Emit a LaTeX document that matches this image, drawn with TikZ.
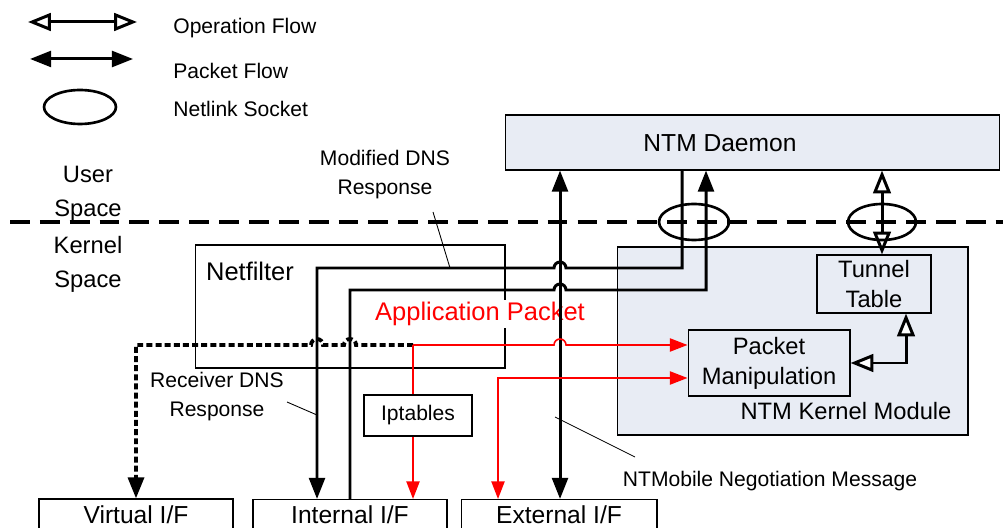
\documentclass[tikz,border=0pt]{standalone}
\usepackage{fontspec}
\setmainfont{Liberation Sans}
\usetikzlibrary{arrows.meta,shapes.geometric}

\definecolor{ntmfill}{RGB}{232,236,244}

\tikzset{
  box/.style={draw, line width=0.6pt, inner sep=0pt, align=center},
  shadebox/.style={box, fill=ntmfill},
  lbl/.style={font=\fontsize{13.5}{17}\selectfont, align=center, inner sep=0pt},
  legtext/.style={anchor=west, font=\fontsize{12}{14}\selectfont, inner sep=0pt},
  note/.style={font=\fontsize{12}{16.5}\selectfont, align=center, inner sep=0pt},
  socket/.style={draw, ellipse, line width=1.5pt, inner sep=0pt, minimum width=1.4cm, minimum height=0.72cm},
  pkt/.style={line width=1.7pt, -{Triangle[length=12pt,width=9pt]}},
  pktboth/.style={line width=1.7pt, {Triangle[length=12pt,width=9pt]}-{Triangle[length=12pt,width=9pt]}},
  opflow/.style={line width=1.7pt, {Triangle[length=13pt,width=10pt,fill=white]}-{Triangle[length=13pt,width=10pt,fill=white]}},
  dnsdot/.style={line width=2.2pt, dash pattern=on 3.4pt off 1.8pt, -{Triangle[length=12pt,width=9pt]}},
  app/.style={red, line width=0.9pt, -{Triangle[length=10pt,width=7.5pt]}},
  appboth/.style={red, line width=0.9pt, {Triangle[length=10pt,width=7.5pt]}-{Triangle[length=10pt,width=7.5pt]}},
  appline/.style={red, line width=0.9pt},
  callout/.style={line width=0.5pt},
  sep/.style={line width=2pt, dash pattern=on 11.3pt off 5.7pt}
}

\begin{document}
\begin{tikzpicture}[x=0.02cm,y=0.02cm]
  \useasboundingbox (0,0) rectangle (1003,527);

  % legend
  \coordinate (opA) at (28,505);
  \coordinate (opB) at (137,505);
  \draw[opflow] (opA) -- (opB);
  \node[legtext] (opText) at (173,499) {Operation Flow};
  \coordinate (pkA) at (30,468);
  \coordinate (pkB) at (133,468);
  \draw[pktboth] (pkA) -- (pkB);
  \node[legtext] (pkText) at (173,456) {Packet Flow};
  \node[socket, minimum width=1.44cm, minimum height=0.68cm] (legSock) at (80,420) {};
  \node[legtext] (sockText) at (173,418) {Netlink Socket};

  % user space / kernel space
  \coordinate (sepL) at (10,305);
  \coordinate (sepR) at (1003,305);
  \draw[sep] (sepL) -- (sepR);
  \node[lbl, font=\fontsize{13.5}{19.3}\selectfont] (userText) at (88,333) {User\\Space};
  \node[lbl, font=\fontsize{13.5}{19.3}\selectfont] (kernText) at (88,263) {Kernel\\Space};

  % boxes
  \node[shadebox, minimum width=9.9cm, minimum height=1.1cm] (daemon) at (752.5,384.5) {};
  \node[lbl, font=\fontsize{14}{17}\selectfont] (daemonText) at (720,384) {NTM Daemon};
  \node[box, minimum width=6.2cm, minimum height=2.46cm] (netfilter) at (350,220.5) {};
  \node[lbl, font=\fontsize{14.5}{17}\selectfont] (netfilterText) at (250,256) {Netfilter};
  \node[shadebox, minimum width=7.02cm, minimum height=3.76cm] (kmod) at (792.5,186) {};
  \node[lbl] (kmodText) at (846,116) {NTM Kernel Module};
  \node[shadebox, lbl, draw, minimum width=2.28cm, minimum height=1.16cm] (tunnel) at (874,243) {Tunnel\\Table};
  \node[shadebox, lbl, draw, minimum width=3.24cm, minimum height=1.32cm] (manip) at (769,164) {Packet\\Manipulation};
  \node[box, fill=white, font=\fontsize{12}{14}\selectfont, minimum width=2.16cm, minimum height=0.82cm] (iptables) at (418,111.5) {Iptables};
  \node[box, font=\fontsize{14}{17}\selectfont, minimum width=3.88cm, minimum height=0.62cm] (virtual) at (136,12.5) {Virtual I/F};
  \node[box, font=\fontsize{14}{17}\selectfont, minimum width=3.88cm, minimum height=0.62cm] (internal) at (350,12) {Internal I/F};
  \node[box, font=\fontsize{14}{17}\selectfont, minimum width=3.92cm, minimum height=0.62cm] (external) at (559,12) {External I/F};

  \node[lbl, font=\fontsize{14.5}{17}\selectfont, text=red, fill=white, inner sep=1pt] (appText) at (480,213) {Application Packet};

  % packet flows
  \pgfmathsetmacro{\xpkt}{560} % line to the external I/F
  \draw[pktboth] (\xpkt,0 |- external.north) -- (\xpkt,0 |- daemon.south);
  \draw[pkt] (682,0 |- daemon.south) -- (682,259) -- (566,259)
    arc[start angle=0,end angle=180,radius=0.12cm] -- (317,259) -- (317,0 |- internal.north);
  \draw[pkt] (350,0 |- internal.north) -- (350,237) -- (554,237)
    arc[start angle=180,end angle=0,radius=0.12cm] -- (706,237) -- (706,0 |- daemon.south);

  % receiver DNS response
  \coordinate (split) at (413,182);
  \draw[dnsdot] (split) -- (356,182) arc[start angle=0,end angle=180,radius=0.12cm]
    -- (323,182) arc[start angle=0,end angle=180,radius=0.12cm]
    -- (136,182) -- (virtual.north);

  % application packet
  \draw[app] (split) -- (554,182) arc[start angle=180,end angle=0,radius=0.12cm] -- (manip.west |- split);
  \draw[appline] (split) -- (split |- iptables.north);
  \draw[app] (split |- iptables.south) -- (split |- internal.north);
  \draw[appboth] (498,0 |- external.north) -- (498,149) -- (manip.west |- 0,149);

  % operation flows
  \draw[opflow] (882,0 |- daemon.south) -- (882,0 |- tunnel.north);
  \draw[opflow] (manip.east) -- (906,0 |- manip.east) -- (906,0 |- tunnel.south);

  % netlink sockets
  \node[socket] (sockA) at (694,305) {};
  \node[socket, minimum width=1.36cm] (sockB) at (882,305) {};

  % call-outs
  \node[note] (modDns) at (385,352) {Modified DNS\\Response};
  \coordinate (modFoot) at (433,315);
  \coordinate (modTip) at (450,259);
  \draw[callout] (modFoot) -- (modTip);
  \node[note] (rcvDns) at (217,130) {Receiver DNS\\Response};
  \coordinate (rcvFoot) at (287,125);
  \coordinate (rcvTip) at (317,112);
  \draw[callout] (rcvFoot) -- (rcvTip);
  \node[note] (negMsg) at (770,46) {NTMobile Negotiation Message};
  \coordinate (negTip) at (555,110);
  \coordinate (negFoot) at (635,70);
  \draw[callout] (negTip) -- (negFoot);
\end{tikzpicture}
\end{document}
